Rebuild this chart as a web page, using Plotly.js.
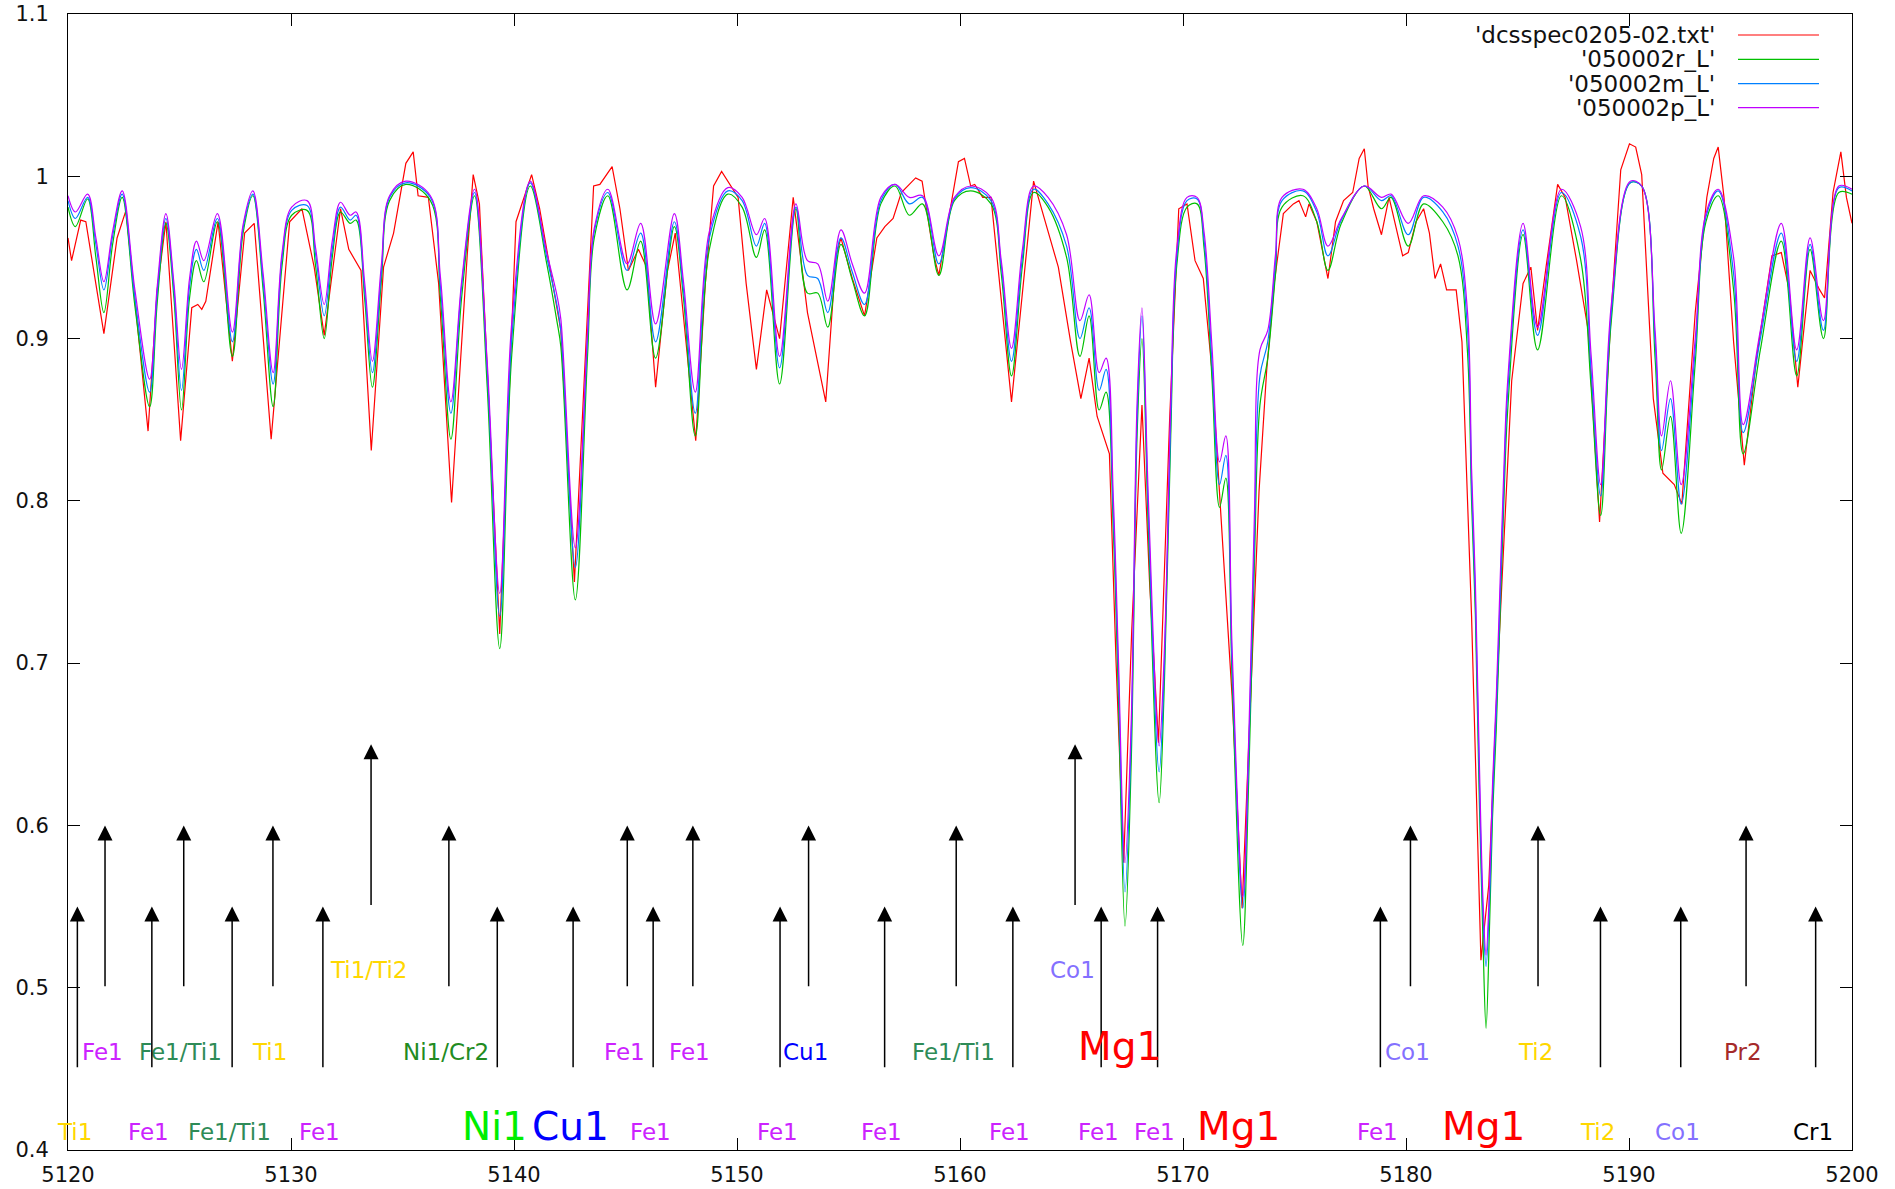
<!DOCTYPE html>
<html>
<head>
<meta charset="utf-8">
<script src="https://cdn.plot.ly/plotly-3.0.1.min.js"></script>
<style>
html,body{margin:0;padding:0;background:#ffffff;}
#chart{width:1895px;height:1189px;}
</style>
</head>
<body>
<div id="chart"></div>
<script>
// ---------------- data ----------------
const modelWave = [5120.00,5120.33,5120.88,5121.25,5121.61,5122.00,5122.43,5123.00,5123.66,5124.00,5124.39,5124.75,5125.09,5125.45,5125.76,5126.09,5126.70,5127.37,5127.85,5128.29,5128.75,5129.20,5129.60,5130.03,5130.72,5131.10,5131.49,5131.85,5132.22,5132.65,5132.92,5133.30,5133.65,5134.05,5134.42,5135.15,5136.25,5136.70,5137.17,5137.65,5138.23,5138.80,5139.36,5139.90,5140.73,5141.47,5141.92,5142.10,5142.75,5143.30,5143.60,5144.21,5145.07,5145.68,5146.35,5147.19,5147.60,5148.13,5148.76,5149.59,5150.23,5150.87,5151.24,5151.91,5152.64,5153.16,5153.62,5154.07,5154.66,5155.17,5155.72,5156.45,5157.09,5157.73,5158.32,5159.05,5159.75,5160.48,5161.39,5161.85,5162.31,5162.80,5163.30,5163.95,5164.78,5165.38,5165.79,5166.24,5166.55,5166.88,5167.10,5167.40,5167.68,5167.94,5168.16,5168.45,5168.93,5169.17,5169.45,5169.72,5170.18,5170.63,5170.95,5171.30,5171.64,5171.92,5172.20,5172.68,5172.95,5173.20,5173.45,5173.80,5174.15,5174.44,5175.38,5176.00,5176.50,5177.10,5178.13,5178.90,5179.33,5180.10,5180.79,5181.65,5182.33,5182.76,5182.94,5183.11,5183.28,5183.45,5183.59,5183.75,5183.88,5184.05,5184.22,5184.39,5184.56,5185.25,5185.90,5186.97,5187.83,5188.30,5188.73,5189.20,5190.06,5190.57,5191.17,5191.46,5191.86,5192.34,5192.97,5193.45,5194.00,5194.69,5195.12,5195.89,5196.83,5197.52,5198.12,5198.72,5199.41,5200.00];

// '050002r_L' (green)
const fluxR = [0.981,0.969,0.986,0.950,0.916,0.958,0.987,0.920,0.858,0.922,0.971,0.925,0.856,0.925,0.948,0.935,0.972,0.889,0.965,0.988,0.930,0.858,0.945,0.976,0.979,0.945,0.900,0.950,0.978,0.971,0.973,0.925,0.870,0.935,0.985,0.995,0.985,0.925,0.838,0.925,0.988,0.870,0.709,0.890,0.994,0.946,0.911,0.895,0.739,0.890,0.962,0.988,0.930,0.960,0.888,0.969,0.925,0.840,0.955,0.989,0.981,0.950,0.967,0.872,0.980,0.928,0.928,0.907,0.958,0.936,0.914,0.983,0.994,0.976,0.983,0.939,0.985,0.991,0.983,0.940,0.877,0.945,0.990,0.981,0.950,0.889,0.914,0.856,0.867,0.780,0.680,0.538,0.640,0.840,0.900,0.780,0.614,0.690,0.840,0.945,0.981,0.983,0.955,0.875,0.796,0.814,0.690,0.526,0.630,0.760,0.859,0.888,0.940,0.981,0.988,0.972,0.942,0.971,0.994,0.980,0.987,0.957,0.983,0.972,0.951,0.891,0.800,0.730,0.620,0.530,0.475,0.540,0.605,0.660,0.730,0.800,0.856,0.964,0.893,0.988,0.949,0.870,0.791,0.910,0.996,0.994,0.888,0.819,0.852,0.780,0.885,0.972,0.988,0.930,0.829,0.893,0.960,0.877,0.955,0.900,0.990,0.989];

// '050002m_L' (blue)
const fluxM = [0.985,0.974,0.987,0.958,0.930,0.963,0.989,0.925,0.867,0.928,0.974,0.930,0.868,0.932,0.955,0.942,0.974,0.898,0.968,0.989,0.935,0.872,0.950,0.979,0.982,0.952,0.914,0.955,0.981,0.973,0.976,0.930,0.879,0.940,0.987,0.996,0.987,0.932,0.854,0.932,0.990,0.880,0.729,0.900,0.996,0.950,0.921,0.905,0.759,0.900,0.966,0.990,0.942,0.965,0.898,0.972,0.930,0.854,0.962,0.991,0.985,0.957,0.971,0.882,0.981,0.939,0.937,0.916,0.962,0.941,0.921,0.985,0.995,0.983,0.987,0.946,0.986,0.993,0.985,0.945,0.886,0.950,0.992,0.983,0.957,0.900,0.919,0.868,0.881,0.790,0.695,0.559,0.655,0.850,0.914,0.790,0.633,0.700,0.850,0.950,0.985,0.986,0.960,0.885,0.810,0.828,0.700,0.549,0.645,0.775,0.877,0.898,0.947,0.985,0.991,0.978,0.951,0.973,0.994,0.985,0.988,0.964,0.987,0.978,0.957,0.905,0.810,0.740,0.633,0.545,0.513,0.555,0.615,0.670,0.740,0.810,0.867,0.967,0.902,0.990,0.963,0.880,0.803,0.915,0.996,0.994,0.898,0.831,0.863,0.798,0.893,0.975,0.991,0.940,0.842,0.900,0.965,0.886,0.958,0.905,0.993,0.991];

// '050002p_L' (purple)
const fluxP = [0.988,0.978,0.989,0.962,0.935,0.966,0.991,0.930,0.875,0.932,0.977,0.934,0.881,0.937,0.960,0.948,0.977,0.904,0.970,0.991,0.940,0.879,0.953,0.981,0.985,0.956,0.921,0.960,0.984,0.976,0.978,0.935,0.886,0.945,0.988,0.997,0.988,0.938,0.861,0.935,0.992,0.885,0.743,0.910,0.997,0.953,0.927,0.912,0.771,0.905,0.968,0.992,0.946,0.971,0.909,0.977,0.935,0.867,0.966,0.993,0.987,0.964,0.974,0.889,0.983,0.948,0.946,0.923,0.967,0.946,0.928,0.987,0.995,0.987,0.988,0.951,0.987,0.994,0.987,0.948,0.894,0.955,0.994,0.987,0.964,0.911,0.927,0.879,0.888,0.800,0.705,0.577,0.665,0.860,0.919,0.800,0.649,0.710,0.860,0.955,0.987,0.987,0.965,0.895,0.824,0.840,0.710,0.556,0.655,0.790,0.893,0.905,0.952,0.987,0.992,0.980,0.957,0.974,0.994,0.987,0.989,0.971,0.988,0.981,0.962,0.916,0.820,0.750,0.645,0.555,0.520,0.565,0.625,0.680,0.750,0.820,0.874,0.971,0.907,0.992,0.969,0.890,0.810,0.920,0.997,0.994,0.905,0.840,0.874,0.810,0.900,0.977,0.992,0.950,0.847,0.905,0.971,0.893,0.962,0.911,0.994,0.992];

// 'dcsspec0205-02.txt' (red, observed)
const obsWave = [5120.00,5120.16,5120.57,5120.80,5121.61,5122.20,5122.60,5123.59,5124.00,5124.39,5125.05,5125.55,5125.82,5126.00,5126.18,5126.73,5127.37,5127.92,5128.35,5129.11,5129.94,5130.49,5131.04,5131.49,5132.22,5132.59,5133.14,5133.60,5134.15,5134.60,5135.15,5135.48,5135.70,5136.16,5136.62,5137.20,5137.90,5138.17,5138.45,5139.36,5140.09,5140.79,5141.15,5142.10,5142.71,5143.57,5143.85,5144.40,5144.75,5145.13,5145.58,5145.95,5146.35,5146.87,5147.23,5148.15,5148.58,5148.95,5149.31,5150.05,5150.41,5150.87,5151.33,5151.60,5151.91,5152.52,5153.16,5153.98,5154.44,5154.66,5155.17,5155.72,5156.27,5156.63,5157.00,5157.37,5158.01,5158.30,5158.83,5159.05,5159.56,5159.93,5160.20,5160.48,5160.66,5161.02,5161.39,5162.31,5163.30,5164.41,5164.96,5165.42,5165.79,5166.15,5166.70,5167.00,5167.34,5167.70,5168.16,5168.50,5168.90,5169.40,5169.81,5170.18,5170.54,5170.91,5171.30,5171.73,5172.20,5172.65,5173.05,5173.41,5173.75,5174.10,5174.50,5174.95,5175.20,5175.50,5175.65,5176.00,5176.50,5176.84,5177.20,5177.61,5177.90,5178.13,5178.30,5178.55,5178.90,5179.24,5179.85,5180.10,5180.45,5180.79,5181.05,5181.30,5181.55,5181.82,5182.25,5182.51,5182.94,5183.36,5183.71,5184.14,5184.74,5185.25,5185.60,5185.90,5186.28,5186.80,5187.14,5187.65,5188.17,5188.68,5189.20,5189.63,5190.02,5190.30,5190.57,5191.09,5191.52,5192.03,5192.37,5192.97,5193.49,5193.80,5194.00,5194.26,5194.69,5195.17,5195.72,5196.41,5196.83,5197.18,5197.57,5198.12,5198.55,5198.77,5199.15,5199.50,5199.75,5200.00];
const obsFlux = [0.962,0.948,0.973,0.972,0.903,0.962,0.979,0.843,0.930,0.972,0.837,0.919,0.921,0.918,0.923,0.972,0.886,0.965,0.971,0.838,0.972,0.980,0.944,0.902,0.980,0.955,0.942,0.831,0.944,0.965,1.008,1.015,0.988,0.987,0.934,0.799,0.951,1.001,0.983,0.718,0.972,1.001,0.980,0.905,0.750,0.994,0.995,1.006,0.980,0.942,0.955,0.944,0.870,0.941,0.965,0.837,0.934,0.994,1.003,0.987,0.934,0.881,0.930,0.916,0.900,0.987,0.916,0.861,0.951,0.962,0.937,0.914,0.962,0.969,0.974,0.990,0.999,0.997,0.951,0.939,0.980,1.009,1.011,0.994,0.995,0.987,0.987,0.861,0.997,0.944,0.898,0.863,0.888,0.852,0.829,0.700,0.577,0.720,0.859,0.750,0.651,0.850,0.980,0.983,0.948,0.937,0.880,0.782,0.680,0.549,0.680,0.806,0.880,0.935,0.977,0.983,0.985,0.975,0.983,0.972,0.937,0.972,0.985,0.990,1.011,1.017,0.994,0.980,0.964,0.987,0.951,0.953,0.972,0.980,0.965,0.937,0.946,0.930,0.930,0.898,0.729,0.517,0.563,0.704,0.874,0.934,0.944,0.905,0.944,0.995,0.987,0.948,0.905,0.787,0.916,1.004,1.020,1.018,1.001,0.863,0.817,0.810,0.798,0.916,0.987,1.011,1.018,0.987,0.898,0.822,0.888,0.951,0.953,0.930,0.870,0.942,0.930,0.925,0.990,1.015,0.987,0.971];

const seriesNames = ["'dcsspec0205-02.txt'", "'050002r_L'", "'050002m_L'", "'050002p_L'"];
const seriesColors = ['#ff0000', '#00c000', '#0080ff', '#c000ff'];

// line identifications
const shortWave  = [5121.66,5125.19,5129.19,5137.08,5145.08,5148.02,5153.21,5159.83,5180.20,5185.92,5195.25];
const shortLabel = ['Fe1','Fe1/Ti1','Ti1','Ni1/Cr2','Fe1','Fe1','Cu1','Fe1/Ti1','Co1','Ti2','Pr2'];
const shortColor = ['#cc22ff','#2e8b57','#ffd700','#228b22','#cc22ff','#cc22ff','#0000ff','#2e8b57','#8470ff','#ffd700','#a52a2a'];

const longWave  = [5120.42,5123.76,5127.36,5131.43,5139.25,5142.65,5146.24,5151.93,5156.62,5162.37,5166.33,5168.86,5178.85,5188.72,5192.32,5198.37];
const longLabel = ['Ti1','Fe1','Fe1/Ti1','Fe1','Ni1','Cu1','Fe1','Fe1','Fe1','Fe1','Fe1','Fe1','Fe1','Ti2','Co1','Cr1'];
const longColor = ['#ffd700','#cc22ff','#2e8b57','#cc22ff','#00ee00','#0000ff','#cc22ff','#cc22ff','#cc22ff','#cc22ff','#cc22ff','#cc22ff','#cc22ff','#ffd700','#8470ff','#000000'];
const longBig   = [false,false,false,false,true,true,false,false,false,false,false,false,false,false,false,false];

const tallWave  = [5133.59,5165.16];
const tallLabel = ['Ti1/Ti2','Co1'];
const tallColor = ['#ffd700','#8470ff'];

const mgWave = [5167.28,5172.63,5183.60];
const mgRow  = ['mid','low','low'];
const mgLabel = ['Mg1','Mg1','Mg1'];

const xTicks = [5120,5130,5140,5150,5160,5170,5180,5190,5200];
const yTicks = [0.4,0.5,0.6,0.7,0.8,0.9,1.0,1.1];
const yTickText = ['0.4','0.5','0.6','0.7','0.8','0.9','1','1.1'];

// ---------------- traces ----------------
const FONT = 'DejaVu Sans, Verdana, sans-serif';
const traces = [
  {x: obsWave,   y: obsFlux, name: seriesNames[0], mode:'lines', line:{color:seriesColors[0], width:1.2}},
  {x: modelWave, y: fluxR,   name: seriesNames[1], mode:'lines', line:{color:seriesColors[1], width:1.2, shape:'spline', smoothing:1.0}},
  {x: modelWave, y: fluxM,   name: seriesNames[2], mode:'lines', line:{color:seriesColors[2], width:1.2, shape:'spline', smoothing:1.0}},
  {x: modelWave, y: fluxP,   name: seriesNames[3], mode:'lines', line:{color:seriesColors[3], width:1.2, shape:'spline', smoothing:1.0}}
];

// ---------------- annotations ----------------
const ann = [];
function arrow(x, y0, y1){
  ann.push({x:x, y:y1, ax:x, ay:y0, xref:'x', yref:'y', axref:'x', ayref:'y',
            text:'', showarrow:true, arrowhead:2, arrowsize:2.0, arrowwidth:1.5,
            arrowcolor:'#000', standoff:0, startstandoff:0});
}
function label(x, y, t, c, size){
  ann.push({x:x, y:y, xref:'x', yref:'y', text:t, showarrow:false, xanchor:'center', yanchor:'middle',
            xshift:-3, font:{family:FONT, size:size, color:c}});
}
shortWave.forEach((w,i)=>{ arrow(w, 0.5, 0.6); label(w, 0.4606, shortLabel[i], shortColor[i], 23); });
longWave.forEach((w,i)=>{ arrow(w, 0.45, 0.55);
  if(longBig[i]) label(w, 0.4145, longLabel[i], longColor[i], 39);
  else label(w, 0.4113, longLabel[i], longColor[i], 23); });
tallWave.forEach((w,i)=>{ arrow(w, 0.55, 0.65); label(w, 0.511, tallLabel[i], tallColor[i], 23); });
mgWave.forEach((w,i)=>{ label(w, mgRow[i]==='mid' ? 0.4635 : 0.4145, mgLabel[i], '#ff0000', 39); });

// legend (drawn manually: gnuplot style, text right-aligned, sample on the right)
const legY = [0.9815, 0.960, 0.9387, 0.9175];
const shapes = [];
seriesNames.forEach((n,i)=>{
  ann.push({x:0.9243, y:legY[i], xref:'paper', yref:'paper', text:n, showarrow:false,
            xanchor:'right', yanchor:'middle', font:{family:FONT, size:23, color:'#111'}});
  shapes.push({type:'line', xref:'paper', yref:'paper', x0:0.9361, x1:0.9815, y0:legY[i], y1:legY[i],
               line:{color:seriesColors[i], width:1.2}});
});

const axisCommon = {
  ticks:'inside', ticklen:12, tickwidth:1, tickcolor:'#000',
  showline:true, linecolor:'#000', linewidth:1, mirror:'ticks',
  showgrid:false, zeroline:false,
  tickfont:{family:FONT, size:21, color:'#111'}
};

const layout = {
  width:1895, height:1189,
  margin:{l:68, r:43, t:14, b:39},
  paper_bgcolor:'#ffffff', plot_bgcolor:'#ffffff',
  showlegend:false,
  font:{family:FONT},
  xaxis: Object.assign({}, axisCommon, {range:[5120,5200], tickvals:xTicks, ticktext:xTicks.map(String), ticklabelstandoff:6}),
  yaxis: Object.assign({}, axisCommon, {range:[0.4,1.1], tickvals:yTicks, ticktext:yTickText, ticklabelstandoff:14}),
  annotations: ann,
  shapes: shapes
};

Plotly.newPlot('chart', traces, layout, {displayModeBar:false, staticPlot:true});
</script>
</body>
</html>
